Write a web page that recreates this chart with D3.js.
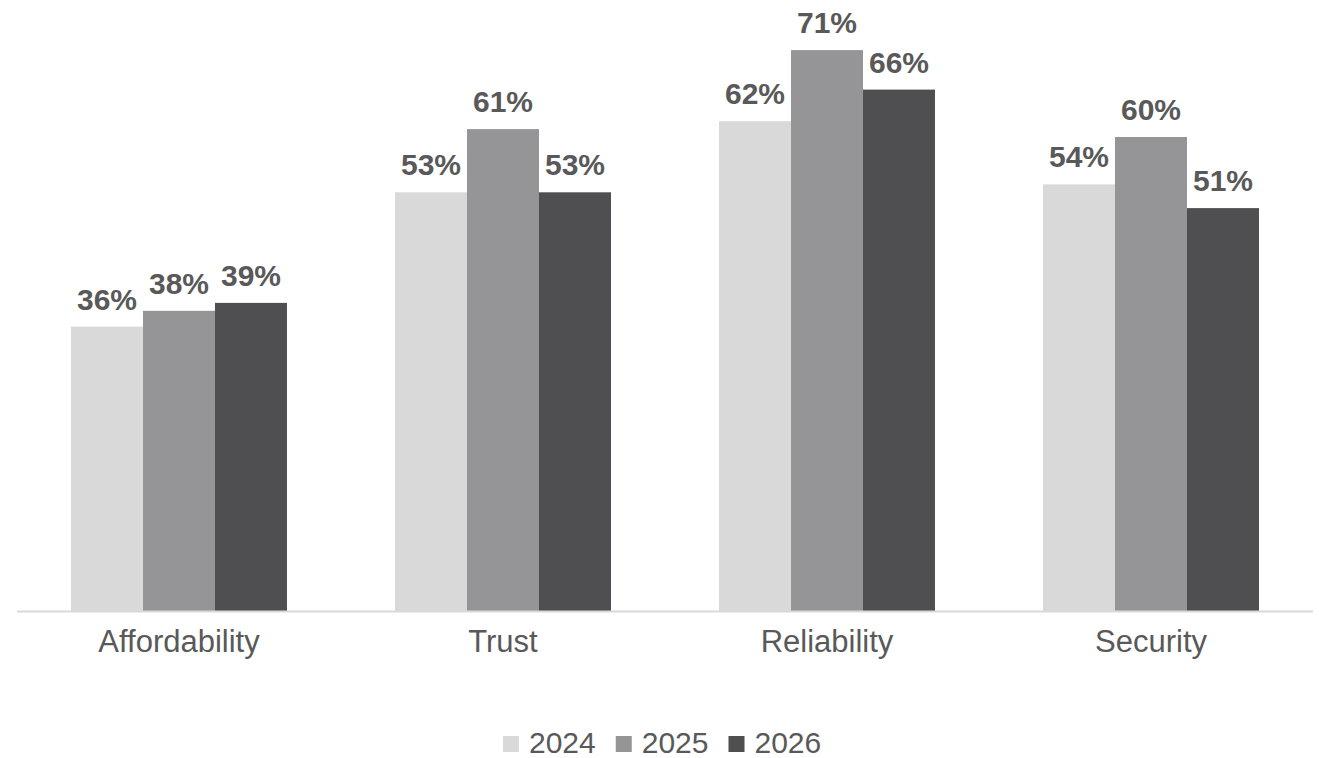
<!DOCTYPE html>
<html>
<head>
<meta charset="utf-8">
<script src="https://cdn.jsdelivr.net/npm/d3@7"></script>
<style>
  html, body { margin: 0; padding: 0; background: #ffffff; }
  svg { display: block; font-family: "Liberation Sans", Arial, sans-serif; }
</style>
</head>
<body>
<svg id="chart" width="1319" height="758"></svg>
<script>
// Categories and yearly shares
const categories = ["Affordability", "Trust", "Reliability", "Security"];
const years = ["2024", "2025", "2026"];
const values2024 = [0.36, 0.53, 0.62, 0.54];
const values2025 = [0.38, 0.61, 0.71, 0.60];
const values2026 = [0.39, 0.53, 0.66, 0.51];
const seriesColors = ["#d9d9d9", "#959597", "#4f4f51"];

const series = [values2024, values2025, values2026];
const rows = categories.map((c, i) => ({
  category: c,
  values: years.map((y, j) => ({ year: y, value: series[j][i], idx: j }))
}));

const svg = d3.select("#chart");
const baseY = 611;

const x0 = d3.scaleBand()
  .domain(categories)
  .range([17, 1313])
  .paddingInner(1 / 3)
  .paddingOuter(1 / 6);

const x1 = d3.scaleBand()
  .domain(years)
  .range([0, x0.bandwidth()]);

const y = d3.scaleLinear()
  .domain([0, 0.7])
  .range([baseY, baseY - 0.7 * 790]);

const color = d3.scaleOrdinal().domain(years).range(seriesColors);

// Bars
const groups = svg.append("g")
  .selectAll("g")
  .data(rows)
  .join("g")
  .attr("transform", d => `translate(${x0(d.category)},0)`);

groups.selectAll("rect")
  .data(d => d.values)
  .join("rect")
  .attr("x", d => x1(d.year))
  .attr("y", d => y(d.value))
  .attr("width", x1.bandwidth())
  .attr("height", d => baseY - y(d.value))
  .attr("fill", d => color(d.year));

// Value labels
groups.selectAll("text")
  .data(d => d.values)
  .join("text")
  .attr("x", d => x1(d.year) + x1.bandwidth() / 2)
  .attr("y", d => y(d.value) - 17)
  .attr("text-anchor", "middle")
  .attr("font-size", 30)
  .attr("font-weight", "bold")
  .attr("fill", "#595959")
  .text(d => d3.format(".0%")(d.value));

// Category axis
const xAxis = svg.append("g")
  .attr("transform", `translate(0,${baseY})`)
  .call(d3.axisBottom(x0).tickSize(0).tickPadding(41));
xAxis.select(".domain")
  .attr("d", "M17,0.5H1313")
  .attr("stroke", "#d9d9d9")
  .attr("stroke-width", 2);
xAxis.selectAll("text")
  .attr("font-size", 31)
  .attr("font-family", "Liberation Sans, Arial, sans-serif")
  .attr("fill", "#595959")
  .attr("dy", 0);

// Legend
const legend = svg.append("g").attr("transform", "translate(0,753)");
let lx = 503;
years.forEach((yr, i) => {
  const item = legend.append("g").attr("transform", `translate(${lx},0)`);
  item.append("rect")
    .attr("x", 0).attr("y", -17)
    .attr("width", 16).attr("height", 16)
    .attr("fill", color(yr));
  const t = item.append("text")
    .attr("x", 26).attr("y", 0)
    .attr("font-size", 30)
    .attr("fill", "#595959")
    .text(yr);
  const w = t.node().getComputedTextLength();
  lx += 26 + w + 20;
});
</script>
</body>
</html>
